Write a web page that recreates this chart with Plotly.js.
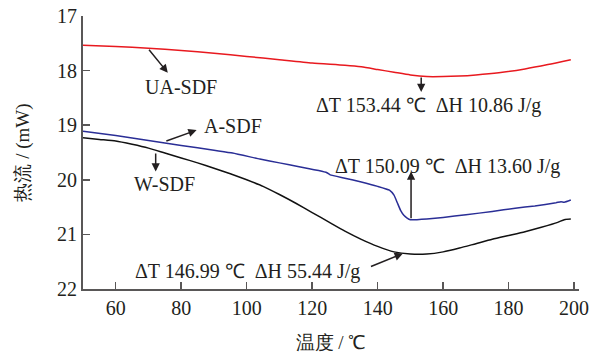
<!DOCTYPE html>
<html>
<head>
<meta charset="utf-8">
<script src="https://cdn.plot.ly/plotly-3.0.1.min.js"></script>
<style>html,body{margin:0;padding:0;background:#fff;}#chart{width:592px;height:358px;}</style>
</head>
<body>
<div id="chart"></div>
<script>
// Temperature (°C) and heat flow (mW)
const uaTemp = [50, 60, 70, 80, 90, 100, 110, 120, 130, 135, 140, 145, 150, 155, 160, 165, 170, 177, 185, 192, 199];
const uaFlow = [17.535, 17.56, 17.59, 17.63, 17.68, 17.74, 17.80, 17.86, 17.90, 17.93, 17.98, 18.03, 18.08, 18.11, 18.11, 18.10, 18.08, 18.04, 17.97, 17.89, 17.80];

const aTemp = [50, 60, 70, 80, 90, 95.7, 104, 110, 116, 122, 124.5, 125.5, 130, 135, 140, 143.6, 145, 146, 147, 148, 149, 150, 152, 155, 160, 167, 175, 182, 188, 194.5, 196, 197, 199];
const aFlow = [19.11, 19.19, 19.28, 19.37, 19.46, 19.51, 19.62, 19.69, 19.76, 19.83, 19.87, 19.91, 19.97, 20.04, 20.12, 20.19, 20.28, 20.42, 20.56, 20.65, 20.70, 20.73, 20.73, 20.72, 20.69, 20.64, 20.58, 20.52, 20.48, 20.42, 20.40, 20.41, 20.37];

const wTemp = [50, 55, 60, 65, 70, 75, 80, 85, 90, 95, 100, 105, 110, 115, 120, 125, 130, 135, 140, 145, 150, 155, 160, 165, 170, 175, 180, 185, 190, 195, 197, 199];
const wFlow = [19.23, 19.26, 19.29, 19.35, 19.42, 19.51, 19.60, 19.69, 19.79, 19.89, 20.00, 20.12, 20.27, 20.43, 20.60, 20.77, 20.94, 21.09, 21.22, 21.32, 21.36, 21.36, 21.32, 21.25, 21.17, 21.09, 21.02, 20.95, 20.87, 20.78, 20.73, 20.72];

const seriesNames = ['UA-SDF', 'A-SDF', 'W-SDF'];
const xTicks = [60, 80, 100, 120, 140, 160, 180, 200];
const yTicks = [17, 18, 19, 20, 21, 22];

const peakLabels = [
  'ΔT 153.44 \u2103\u00a0\u00a0ΔH 10.86 J/g',
  'ΔT 150.09 \u2103\u00a0\u00a0ΔH 13.60 J/g',
  'ΔT 146.99 \u2103\u00a0\u00a0ΔH 55.44 J/g'
];

const FONT = 'Liberation Serif';
const TXT = '#231f20';
const AX = '#595757';

const traces = [
  {x: uaTemp, y: uaFlow, name: seriesNames[0], mode: 'lines', line: {color: '#e8191f', width: 1.5, shape: 'spline', smoothing: 0.6}},
  {x: aTemp, y: aFlow, name: seriesNames[1], mode: 'lines', line: {color: '#2a2e96', width: 1.5, shape: 'spline', smoothing: 0.4}},
  {x: wTemp, y: wFlow, name: seriesNames[2], mode: 'lines', line: {color: '#111111', width: 1.5, shape: 'spline', smoothing: 0.6}}
];

function arrow(x, y, ax, ay) {
  return {x: x, y: y, ax: ax, ay: ay, xref: 'x', yref: 'y', axref: 'x', ayref: 'y',
    text: '', showarrow: true, arrowhead: 2, arrowsize: 1.1, arrowwidth: 1.5, arrowcolor: TXT, standoff: 0, startstandoff: 0};
}
function label(x, y, t) {
  return {x: x, y: y, xref: 'x', yref: 'y', text: t, showarrow: false,
    font: {family: FONT, size: 20, color: TXT}, xanchor: 'center', yanchor: 'middle'};
}

const annotations = [
  arrow(75.9, 18.04, 69.8, 17.59),
  label(79.9, 18.30, seriesNames[0]),
  arrow(84.7, 19.09, 75.0, 19.30),
  label(95.7, 19.01, seriesNames[1]),
  arrow(72.2, 19.85, 72.2, 19.49),
  label(74.9, 20.07, seriesNames[2]),
  arrow(153.3, 18.39, 153.3, 18.10),
  label(155.4, 18.63, peakLabels[0]),
  arrow(150.2, 19.85, 150.2, 20.73),
  label(161.4, 19.76, peakLabels[1]),
  arrow(147.7, 21.35, 137.5, 21.60),
  label(100.2, 21.68, peakLabels[2])
];

const layout = {
  width: 592, height: 358,
  margin: {l: 83, r: 13, t: 16, b: 69},
  paper_bgcolor: '#fff', plot_bgcolor: '#fff',
  showlegend: false,
  font: {family: FONT, size: 19, color: TXT},
  xaxis: {
    range: [50, 201.5], tickvals: xTicks, ticktext: xTicks.map(String),
    showgrid: false, zeroline: false, showline: true, linecolor: AX, linewidth: 2,
    ticks: 'inside', ticklen: 7, tickwidth: 1.5, tickcolor: AX,
    tickfont: {family: FONT, size: 20, color: TXT},
    title: {text: '温度 / ℃', font: {family: FONT, size: 19, color: TXT}, standoff: 18}
  },
  yaxis: {
    range: [22, 17], tickvals: yTicks, ticktext: yTicks.map(String),
    showgrid: false, zeroline: false, showline: true, linecolor: AX, linewidth: 2,
    ticks: 'inside', ticklen: 7, tickwidth: 1.5, tickcolor: AX,
    tickfont: {family: FONT, size: 20, color: TXT},
    title: {text: '热流 / (mW)', font: {family: FONT, size: 19, color: TXT}, standoff: 22}
  },
  annotations: annotations
};

Plotly.newPlot('chart', traces, layout, {staticPlot: true, displayModeBar: false});
</script>
</body>
</html>
